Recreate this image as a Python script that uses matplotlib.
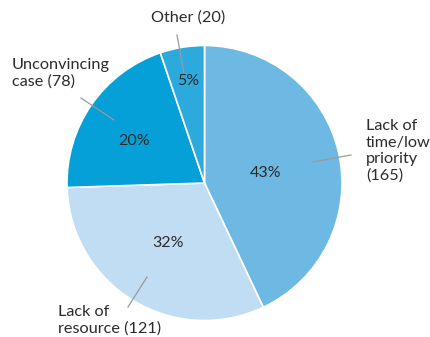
import matplotlib
matplotlib.use("Agg")
import matplotlib.pyplot as plt
import numpy as np

categories = ["Lack of\ntime/low\npriority\n(165)", "Lack of\nresource (121)", "Unconvincing\ncase (78)", "Other (20)"]
counts = [165, 121, 78, 20]
pct_labels = ["43%", "32%", "20%", "5%"]
colors = ["#6db9e3", "#c0ddf3", "#04a0d7", "#2caadd"]

W, H = 431, 337
fig = plt.figure(figsize=(W / 100, H / 100), dpi=100)
ax = fig.add_axes([0, 0, 1, 1])

cx, cy, R = 204.5, H - 183, 137.5
wedges, _ = ax.pie(counts, colors=colors, startangle=90, counterclock=False,
                   center=(cx, cy), radius=R, frame=True,
                   wedgeprops=dict(edgecolor="white", linewidth=1.2))
ax.set_xlim(0, W)
ax.set_ylim(0, H)
ax.axis("off")

font = "Lato"
tcol = "#2b2b2b"
# percentage labels
pct_pos = [(266, 173), (168, 243), (134, 141), (188, 81)]
for (px, py), t in zip(pct_pos, pct_labels):
    ax.text(px, H - py, t, ha="center", va="center", fontsize=11.5,
            color=tcol, family=font)

# category labels with leader lines
lab_pos = [(366, 151, "left"), (58, 320, "left"), (12, 73, "left"), (188, 18, "center")]
lines = [((351, 155), (313, 162)), ((128, 307), (147, 277)),
         ((81, 98), (114, 120)), ((177, 35), (184, 73))]
for (lx, ly, ha), t, (p0, p1) in zip(lab_pos, categories, lines):
    ax.text(lx, H - ly, t, ha=ha, va="center", fontsize=11.7, color=tcol,
            family=font, linespacing=1.2)
    ax.plot([p0[0], p1[0]], [H - p0[1], H - p1[1]], color="#9a9a9a", lw=0.9)

fig.savefig("out.png", dpi=100)
